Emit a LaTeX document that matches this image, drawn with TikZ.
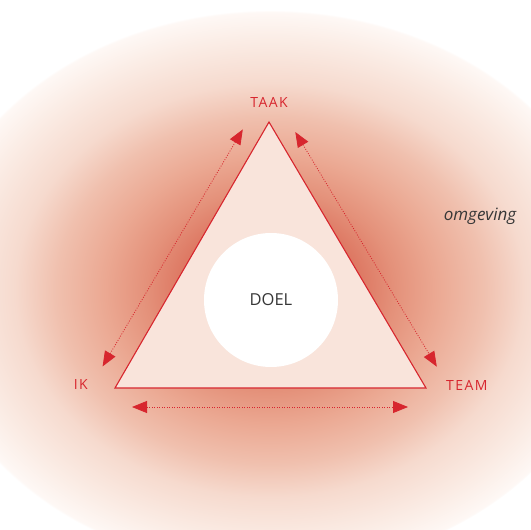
\documentclass[tikz,border=0pt]{standalone}
\usepackage{fontspec}
\setmainfont{Open Sans}
\newfontfamily\hoekfont[LetterSpace=10]{Open Sans}
\usetikzlibrary{arrows.meta,positioning}
\definecolor{doelred}{RGB}{215,38,46}
\definecolor{trifill}{RGB}{249,228,219}
\definecolor{tekstgrijs}{RGB}{55,55,55}
\definecolor{gloed0}{RGB}{220,115,94}
\definecolor{gloed1}{RGB}{228,145,122}
\definecolor{gloed2}{RGB}{235,168,146}
\definecolor{gloed3}{RGB}{240,192,174}
\definecolor{gloed4}{RGB}{246,218,206}
\definecolor{gloed5}{RGB}{251,237,230}
\definecolor{gloed6}{RGB}{254,248,245}
\pgfdeclareradialshading{omgeving}{\pgfpoint{0bp}{0bp}}{color(0bp)=(gloed0); color(6bp)=(gloed0); color(9bp)=(gloed1); color(12bp)=(gloed2); color(15.5bp)=(gloed3); color(18.5bp)=(gloed4); color(22.5bp)=(gloed5); color(24.8bp)=(gloed6); color(25bp)=(white); color(50bp)=(white)}
\tikzset{
  hoeklabel/.style={inner sep=0pt, text=doelred, font=\hoekfont\fontsize{14}{16}\selectfont},
  pijl/.style={{Triangle[length=15pt,width=12pt]}-{Triangle[length=15pt,width=12pt]}, doelred, line width=0.8pt, dash pattern=on 0.9pt off 1.6pt}
}

\begin{document}
\begin{tikzpicture}[x=1pt, y=-1pt, node distance=14pt]
  \useasboundingbox (0,0) rectangle (531,530);
  \clip (0,0) rectangle (531,530);
  \shade[shading=omgeving] (270,290) ellipse [x radius=345, y radius=280];

  \coordinate (taak-hoek) at (269,122);
  \coordinate (ik-hoek) at (115,388);
  \coordinate (team-hoek) at (426,388);
  \draw[doelred, line width=1.1pt, fill=trifill] (taak-hoek) -- (team-hoek) -- (ik-hoek) -- cycle;

  \node[circle, fill=white, minimum size=134pt, inner sep=0pt, text=tekstgrijs, font=\fontsize{16.5}{19}\selectfont] (doel) at (271,300) {DOEL};

  \node[hoeklabel, above=of taak-hoek] (taak) {TAAK};
  \node[hoeklabel, left=27pt of ik-hoek, yshift=3pt] (ik) {IK};
  \node[hoeklabel, right=20pt of team-hoek, yshift=3pt] (team) {TEAM};
  \node[text=tekstgrijs, font=\itshape\fontsize{17}{20}\selectfont] (omgeving) at (480,216) {omgeving};

  \coordinate (links-onder) at (102.6,366.4);
  \coordinate (links-boven) at (242.8,129.4);
  \coordinate (rechts-boven) at (295.3,132);
  \coordinate (rechts-onder) at (436.8,366.7);
  \coordinate (onder-links) at (132,407);
  \coordinate (onder-rechts) at (408,407);
  \draw[pijl] (links-onder) -- (links-boven);
  \draw[pijl] (rechts-boven) -- (rechts-onder);
  \draw[pijl] (onder-links) -- (onder-rechts);
\end{tikzpicture}
\end{document}
